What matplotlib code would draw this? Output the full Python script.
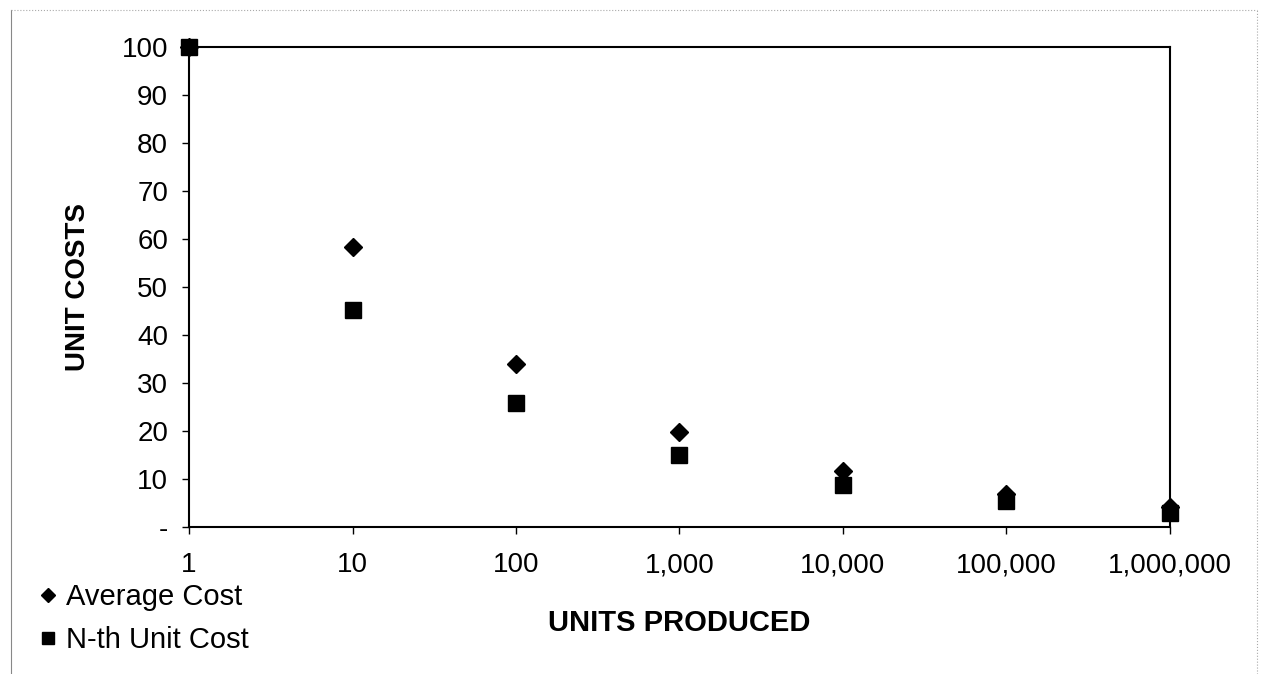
import matplotlib
matplotlib.use("Agg")
import matplotlib.pyplot as plt
from matplotlib.lines import Line2D
from matplotlib.ticker import FixedLocator, NullLocator

plt.rcParams['font.family'] = ['Liberation Sans', 'DejaVu Sans']

units = [1, 10, 100, 1000, 10000, 100000, 1000000]
average_cost = [100, 58.3, 33.9, 19.7, 11.7, 6.9, 4.1]
nth_unit_cost = [100, 45.2, 25.9, 15.1, 8.8, 5.4, 3.0]
x_tick_labels = ['1', '10', '100', '1,000', '10,000', '100,000', '1,000,000']
y_ticks = [0, 10, 20, 30, 40, 50, 60, 70, 80, 90, 100]
y_tick_labels = ['-'] + [str(v) for v in y_ticks[1:]]

fig = plt.figure(figsize=(12.62, 6.74), dpi=100)
ax = fig.add_axes([0.1498, 0.2181, 0.7772, 0.7122])

ax.plot(units, average_cost, linestyle='none', marker='D', markersize=9,
        color='black', label='Average Cost', clip_on=False, zorder=3)
ax.plot(units, nth_unit_cost, linestyle='none', marker='s', markersize=11.5,
        color='black', label='N-th Unit Cost', clip_on=False, zorder=4)

ax.set_xscale('log')
ax.set_xlim(1, 1000000)
ax.set_ylim(0, 100)
ax.xaxis.set_major_locator(FixedLocator(units))
ax.xaxis.set_minor_locator(NullLocator())
ax.set_xticklabels(x_tick_labels)
ax.set_yticks(y_ticks)
ax.set_yticklabels(y_tick_labels)

ax.tick_params(axis='both', direction='out', length=5, width=1, labelsize=20, colors='black')
ax.tick_params(axis='x', pad=13)
ax.tick_params(axis='y', pad=10)
for s in ax.spines.values():
    s.set_linewidth(1.5)
    s.set_color('black')

ax.set_xlabel('UNITS PRODUCED', fontsize=21, fontweight='bold', labelpad=22)
ax.set_ylabel('UNIT COSTS', fontsize=20, fontweight='bold', labelpad=22)

handles = [Line2D([], [], linestyle='none', marker='D', markersize=7, color='black'),
           Line2D([], [], linestyle='none', marker='s', markersize=8.5, color='black')]
fig.legend(handles, ['Average Cost', 'N-th Unit Cost'], loc='upper left',
           bbox_to_anchor=(0.022, 0.152), frameon=False, fontsize=21,
           handlelength=0.6, handletextpad=0.3, labelspacing=0.5, borderaxespad=0)

# page border lines from the scan
fig.add_artist(Line2D([0.009, 0.009], [0.0, 0.985], color='#888888', linewidth=0.8, transform=fig.transFigure))
fig.add_artist(Line2D([0.996, 0.996], [0.0, 0.985], color='#aaaaaa', linewidth=0.8, linestyle=':', transform=fig.transFigure))
fig.add_artist(Line2D([0.009, 0.996], [0.985, 0.985], color='#aaaaaa', linewidth=0.8, linestyle=':', transform=fig.transFigure))

fig.savefig('out.png', dpi=100, facecolor='white')
